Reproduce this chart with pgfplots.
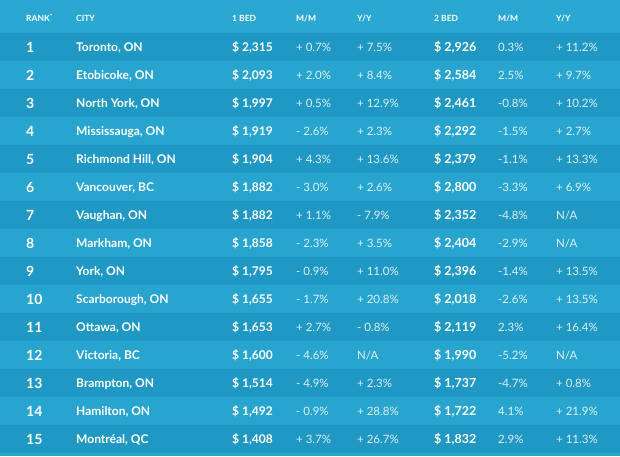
\documentclass[border=0pt]{standalone}
\usepackage{pgfplots}
\usepackage{pgfplotstable}
\pgfplotsset{compat=1.18}
\usepackage{fontspec}
\setmainfont{Lato}
\definecolor{hdr}{HTML}{2AA8D1}
\definecolor{rowA}{HTML}{1F98C3}
\definecolor{rowB}{HTML}{28A5CF}

\pgfplotstableread[col sep=semicolon]{
rank;city;b1;m1;y1;b2;m2;y2
1;Toronto, ON;2,315;+ 0.7\%;+ 7.5\%;2,926;0.3\%;+ 11.2\%
2;Etobicoke, ON;2,093;+ 2.0\%;+ 8.4\%;2,584;2.5\%;+ 9.7\%
3;North York, ON;1,997;+ 0.5\%;+ 12.9\%;2,461;-0.8\%;+ 10.2\%
4;Mississauga, ON;1,919;- 2.6\%;+ 2.3\%;2,292;-1.5\%;+ 2.7\%
5;Richmond Hill, ON;1,904;+ 4.3\%;+ 13.6\%;2,379;-1.1\%;+ 13.3\%
6;Vancouver, BC;1,882;- 3.0\%;+ 2.6\%;2,800;-3.3\%;+ 6.9\%
7;Vaughan, ON;1,882;+ 1.1\%;- 7.9\%;2,352;-4.8\%;N/A
8;Markham, ON;1,858;- 2.3\%;+ 3.5\%;2,404;-2.9\%;N/A
9;York, ON;1,795;- 0.9\%;+ 11.0\%;2,396;-1.4\%;+ 13.5\%
10;Scarborough, ON;1,655;- 1.7\%;+ 20.8\%;2,018;-2.6\%;+ 13.5\%
11;Ottawa, ON;1,653;+ 2.7\%;- 0.8\%;2,119;2.3\%;+ 16.4\%
12;Victoria, BC;1,600;- 4.6\%;N/A;1,990;-5.2\%;N/A
13;Brampton, ON;1,514;- 4.9\%;+ 2.3\%;1,737;-4.7\%;+ 0.8\%
14;Hamilton, ON;1,492;- 0.9\%;+ 28.8\%;1,722;4.1\%;+ 21.9\%
15;Montréal, QC;1,408;+ 3.7\%;+ 26.7\%;1,832;2.9\%;+ 11.3\%
}\datatable

\pgfplotsset{
  txt/.style={draw=none, mark=none, nodes near coords, point meta=explicit symbolic,
    nodes near coords style={anchor=base west, inner sep=0pt, text=white}},
}

\begin{document}
\begin{tikzpicture}
\begin{axis}[
  width=620pt, height=456pt, scale only axis,
  xmin=0, xmax=620, ymin=0, ymax=456, y dir=reverse,
  axis lines=none, clip=false,
]
% backgrounds
\addplot[fill=rowB, draw=none] coordinates {(0,0) (620,0) (620,456) (0,456)} --cycle;
\addplot[fill=hdr, draw=none] coordinates {(0,0) (620,0) (620,33) (0,33)} --cycle;
\addplot[fill=rowA, draw=none] coordinates {(0,33) (620,33) (620,61) (0,61)} --cycle;
\addplot[fill=rowA, draw=none] coordinates {(0,89) (620,89) (620,117) (0,117)} --cycle;
\addplot[fill=rowA, draw=none] coordinates {(0,145) (620,145) (620,173) (0,173)} --cycle;
\addplot[fill=rowA, draw=none] coordinates {(0,201) (620,201) (620,229) (0,229)} --cycle;
\addplot[fill=rowA, draw=none] coordinates {(0,257) (620,257) (620,285) (0,285)} --cycle;
\addplot[fill=rowA, draw=none] coordinates {(0,313) (620,313) (620,341) (0,341)} --cycle;
\addplot[fill=rowA, draw=none] coordinates {(0,369) (620,369) (620,397) (0,397)} --cycle;
\addplot[fill=rowA, draw=none] coordinates {(0,425) (620,425) (620,453) (0,453)} --cycle;

% header
\begin{scope}[every node/.style={anchor=base west, inner sep=0pt, text=white, font=\bfseries\fontsize{8.5}{9}\selectfont}]
\node at (axis cs:26,21.5) {RANK\textsuperscript{*}};
\node at (axis cs:76,21.5) {CITY};
\node at (axis cs:232,21.5) {1 BED};
\node at (axis cs:296,21.5) {M/M};
\node at (axis cs:357,21.5) {Y/Y};
\node at (axis cs:434,21.5) {2 BED};
\node at (axis cs:498,21.5) {M/M};
\node at (axis cs:556,21.5) {Y/Y};
\end{scope}

% body
\addplot[txt, nodes near coords style={font=\bfseries\fontsize{14}{14}\selectfont}]
  table[x expr=26, y expr={52+28*(\thisrow{rank}-1)}, meta=rank] {\datatable};
\addplot[txt, nodes near coords style={font=\bfseries\fontsize{12}{12}\selectfont}]
  table[x expr=76, y expr={51.5+28*(\thisrow{rank}-1)}, meta=city] {\datatable};
\addplot[txt, nodes near coords={\$ \pgfplotspointmeta}, nodes near coords style={font=\bfseries\fontsize{12}{12}\selectfont}]
  table[x expr=232, y expr={51.5+28*(\thisrow{rank}-1)}, meta=b1] {\datatable};
\addplot[txt, nodes near coords style={font=\fontsize{11.5}{12}\selectfont, text opacity=0.85}]
  table[x expr=296, y expr={51.5+28*(\thisrow{rank}-1)}, meta=m1] {\datatable};
\addplot[txt, nodes near coords style={font=\fontsize{11.5}{12}\selectfont, text opacity=0.85}]
  table[x expr=357, y expr={51.5+28*(\thisrow{rank}-1)}, meta=y1] {\datatable};
\addplot[txt, nodes near coords={\$ \pgfplotspointmeta}, nodes near coords style={font=\bfseries\fontsize{12.5}{12}\selectfont}]
  table[x expr=434, y expr={51.5+28*(\thisrow{rank}-1)}, meta=b2] {\datatable};
\addplot[txt, nodes near coords style={font=\fontsize{11.5}{12}\selectfont, text opacity=0.85}]
  table[x expr=498, y expr={51.5+28*(\thisrow{rank}-1)}, meta=m2] {\datatable};
\addplot[txt, nodes near coords style={font=\fontsize{11.5}{12}\selectfont, text opacity=0.85}]
  table[x expr=556, y expr={51.5+28*(\thisrow{rank}-1)}, meta=y2] {\datatable};
\end{axis}
\end{tikzpicture}
\end{document}
